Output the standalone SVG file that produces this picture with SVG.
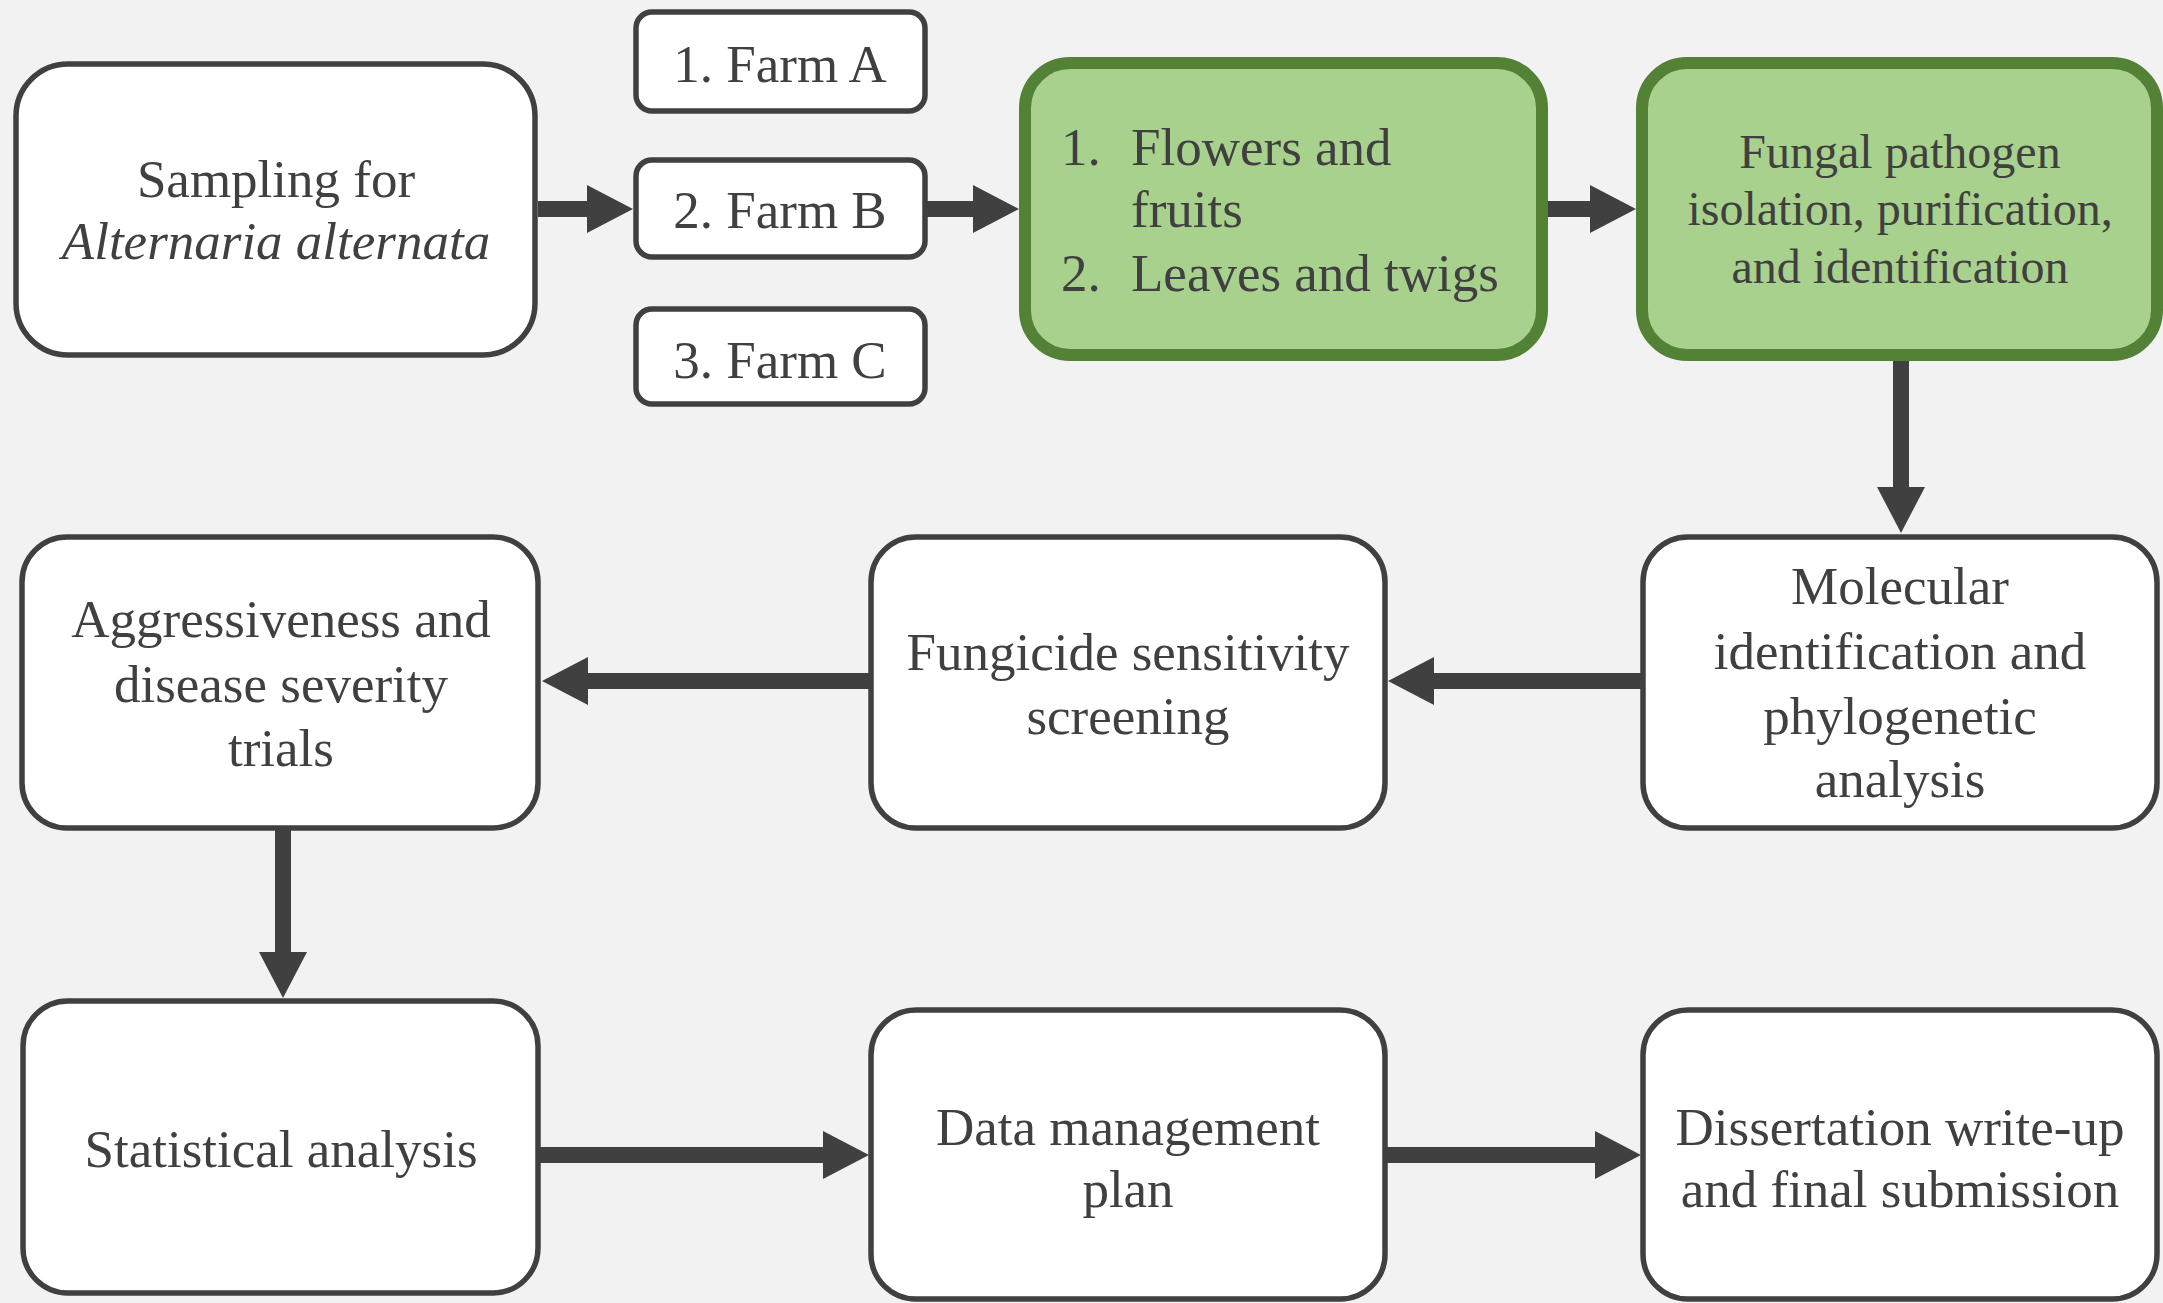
<svg xmlns="http://www.w3.org/2000/svg" width="2163" height="1303" viewBox="0 0 2163 1303">
<style>
.box{fill:#FFFFFF;stroke:#404040;stroke-width:5.5}
.green{fill:#A9D18E;stroke:#538135;stroke-width:12}
text{font-family:"Liberation Serif","Tinos","Times New Roman","DejaVu Serif",serif;font-size:53px;fill:#404040}
.c{text-anchor:middle}
.s48{font-size:48px}
.conn{stroke:#404040;stroke-width:16;fill:none}
</style>
<defs>
<marker id="ah" markerUnits="userSpaceOnUse" viewBox="0 0 46 48" markerWidth="46" markerHeight="48" refX="0" refY="24" orient="auto">
<path d="M0,0 L46,24 L0,48 Z" fill="#404040"/>
</marker>
</defs>
<rect width="2163" height="1303" fill="#F2F2F2"/>

<g id="connectors">
<line class="conn" x1="538" y1="209" x2="587" y2="209" marker-end="url(#ah)"/>
<line class="conn" x1="927" y1="209" x2="973" y2="209" marker-end="url(#ah)"/>
<line class="conn" x1="1547" y1="209" x2="1590" y2="209" marker-end="url(#ah)"/>
<line class="conn" x1="1901" y1="356" x2="1901" y2="487" marker-end="url(#ah)"/>
<line class="conn" x1="1641" y1="681" x2="1434" y2="681" marker-end="url(#ah)"/>
<line class="conn" x1="869" y1="681" x2="588" y2="681" marker-end="url(#ah)"/>
<line class="conn" x1="283" y1="830" x2="283" y2="952" marker-end="url(#ah)"/>
<line class="conn" x1="540" y1="1155" x2="823" y2="1155" marker-end="url(#ah)"/>
<line class="conn" x1="1387" y1="1155" x2="1595" y2="1155" marker-end="url(#ah)"/>
</g>

<g id="sampling">
<rect class="box" x="16" y="64" width="519" height="291" rx="52"/>
<text class="c" x="276" y="197">Sampling for</text>
<text class="c" x="276" y="259" font-style="italic">Alternaria alternata</text>
</g>

<g id="farmA">
<rect class="box" x="636" y="12" width="289" height="99" rx="16"/>
<text class="c" x="780" y="82">1. Farm A</text>
</g>
<g id="farmB">
<rect class="box" x="636" y="160" width="289" height="97" rx="16"/>
<text class="c" x="780" y="228">2. Farm B</text>
</g>
<g id="farmC">
<rect class="box" x="636" y="309" width="289" height="95" rx="16"/>
<text class="c" x="780" y="378">3. Farm C</text>
</g>

<g id="samples">
<rect class="green" x="1025" y="63" width="517" height="292" rx="45"/>
<text x="1061" y="165">1.</text>
<text x="1131" y="165">Flowers and</text>
<text x="1131" y="227">fruits</text>
<text x="1061" y="291">2.</text>
<text x="1131" y="291">Leaves and twigs</text>
</g>

<g id="isolation">
<rect class="green" x="1642" y="63" width="515" height="292" rx="45"/>
<text class="c s48" x="1900" y="168">Fungal pathogen</text>
<text class="c s48" x="1900" y="225">isolation, purification,</text>
<text class="c s48" x="1900" y="283">and identification</text>
</g>

<g id="molecular">
<rect class="box" x="1643" y="537" width="514" height="291" rx="45"/>
<text class="c" x="1900" y="604">Molecular</text>
<text class="c" x="1900" y="669">identification and</text>
<text class="c" x="1900" y="734">phylogenetic</text>
<text class="c" x="1900" y="797">analysis</text>
</g>

<g id="fungicide">
<rect class="box" x="871" y="537" width="514" height="291" rx="45"/>
<text class="c" x="1128" y="670">Fungicide sensitivity</text>
<text class="c" x="1128" y="734">screening</text>
</g>

<g id="aggressiveness">
<rect class="box" x="22" y="537" width="516" height="291" rx="45"/>
<text class="c" x="281" y="637">Aggressiveness and</text>
<text class="c" x="281" y="702">disease severity</text>
<text class="c" x="281" y="766">trials</text>
</g>

<g id="statistical">
<rect class="box" x="23" y="1001" width="515" height="292" rx="45"/>
<text class="c" x="281" y="1167">Statistical analysis</text>
</g>

<g id="data">
<rect class="box" x="871" y="1010" width="514" height="289" rx="45"/>
<text class="c" x="1128" y="1145">Data management</text>
<text class="c" x="1128" y="1207">plan</text>
</g>

<g id="dissertation">
<rect class="box" x="1643" y="1010" width="514" height="289" rx="45"/>
<text class="c" x="1900" y="1145">Dissertation write-up</text>
<text class="c" x="1900" y="1207">and final submission</text>
</g>
</svg>
